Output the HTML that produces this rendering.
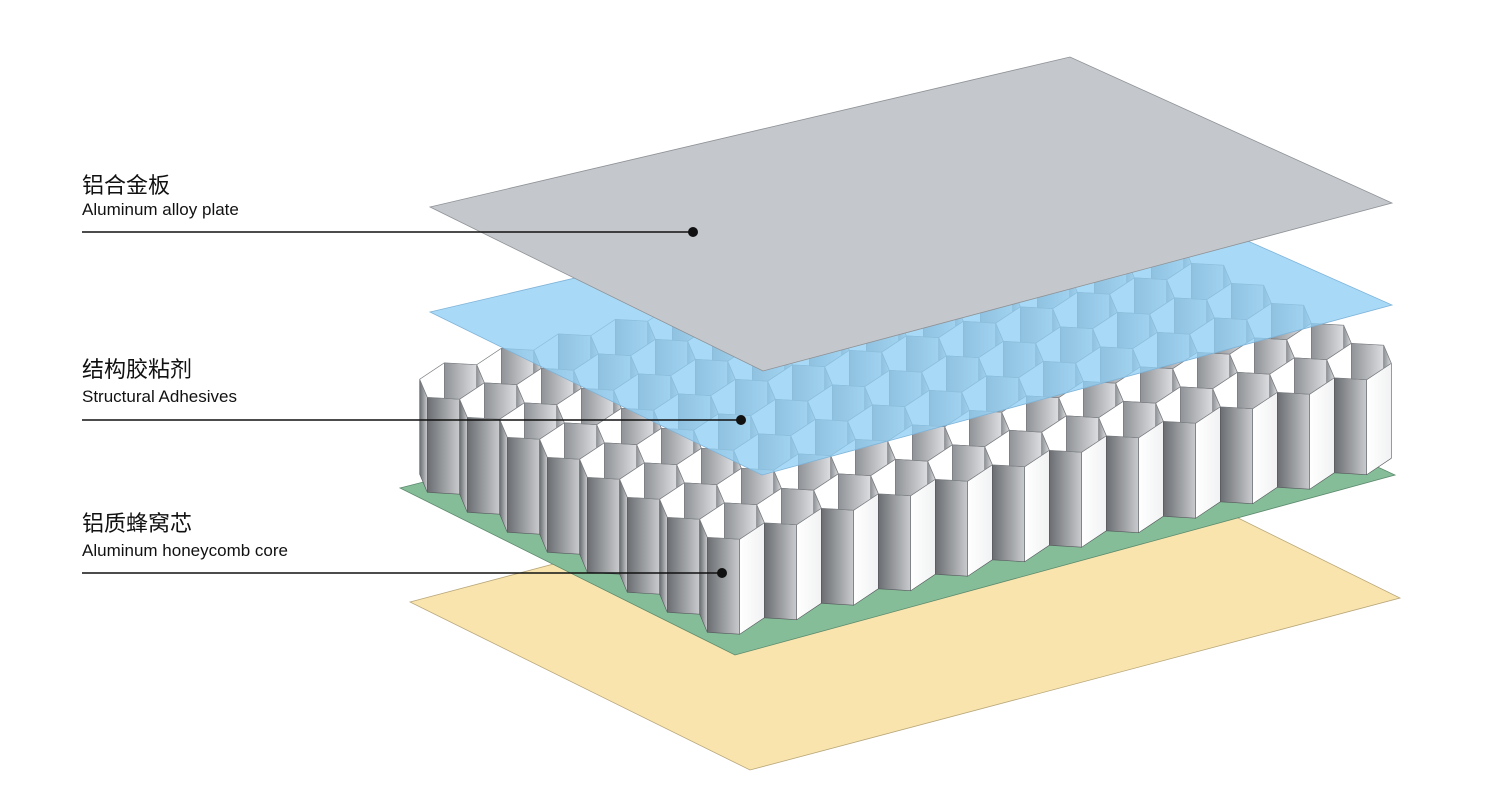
<!DOCTYPE html>
<html><head><meta charset="utf-8">
<style>
html,body{margin:0;padding:0;background:#fff;width:1485px;height:798px;overflow:hidden}
svg{position:absolute;left:0;top:0}
.t{position:absolute;left:82px;color:#111;font-family:"Liberation Sans","Noto Sans CJK SC",sans-serif;white-space:nowrap}
.cn{font-size:22px}
.en{font-size:17px}
</style></head><body>
<svg id="s" width="1485" height="798" viewBox="0 0 1485 798">
<defs id="df">
<linearGradient id="gs" x1="0" y1="0" x2="1" y2="0">
<stop offset="0" stop-color="#6a6d71"/><stop offset="1" stop-color="#c9cbce"/>
</linearGradient>
<linearGradient id="ws" x1="0" y1="0" x2="1" y2="0">
<stop offset="0" stop-color="#ffffff"/><stop offset="1" stop-color="#f1f2f3"/>
</linearGradient>
<linearGradient id="gi" x1="0" y1="0" x2="1" y2="0">
<stop offset="0" stop-color="#8f9296"/><stop offset="1" stop-color="#dcdde0"/>
</linearGradient>
</defs>
<polygon points="410,602 1060,430 1400,598 750,770" fill="#f9e4ad" stroke="#b9a77a" stroke-width="0.8"/>
<polygon points="400,488 1060,320 1395,475 735,655" fill="#85bd99" stroke="#5c8a6c" stroke-width="0.8"/>
<g id="hc"></g>
<polygon points="430,312 1070,162 1392,305 762,475" fill="#8fcff5" fill-opacity="0.78" stroke="#7fb3d8" stroke-width="0.8"/>
<polygon points="430,207 1070,57 1392,203 763,371" fill="#c4c8cc" stroke="#8e9296" stroke-width="0.8"/>
<g stroke="#111" stroke-width="1.6">
<line x1="82" y1="232" x2="693" y2="232"/>
<line x1="82" y1="420" x2="741" y2="420"/>
<line x1="82" y1="573" x2="722" y2="573"/>
</g>
<g fill="#111">
<circle cx="693" cy="232" r="5"/>
<circle cx="741" cy="420" r="5"/>
<circle cx="722" cy="573" r="5"/>
</g>
</svg>
<div class="t cn" style="top:168px">铝合金板</div>
<div class="t en" style="top:200px">Aluminum alloy plate</div>
<div class="t cn" style="top:352px">结构胶粘剂</div>
<div class="t en" style="top:387px">Structural Adhesives</div>
<div class="t cn" style="top:506px">铝质蜂窝芯</div>
<div class="t en" style="top:541px">Aluminum honeycomb core</div>
<script>
(function(){
var g=document.getElementById('hc'), df=document.getElementById('df');
var u=[57,-14.5], v=[-40,-20];
var w=[(v[0]+0.5*u[0])/0.866,(v[1]+0.5*u[1])/0.866];
var O=[732,521], h=95, R=0.577;
function P(x,y){return [O[0]+x*u[0]+y*w[0], O[1]+x*u[1]+y*w[1]];}
var cells=[];
for(var j=0;j<8;j++)for(var i=0;i<12;i++){
 var cx=i-j*0.5, cy=j*0.866; var c=P(cx,cy); cells.push({cx:cx,cy:cy,sy:c[1],sx:c[0]});
}
cells.sort(function(a,b){return a.sy-b.sy||a.sx-b.sx;});
var ns='http://www.w3.org/2000/svg';
function ps(pts){return pts.map(function(q){return q[0].toFixed(1)+','+q[1].toFixed(1)}).join(' ');}
function poly(par,pts,fill,stroke,sw){var p=document.createElementNS(ns,'polygon');
 p.setAttribute('points',ps(pts));
 p.setAttribute('fill',fill); if(stroke){p.setAttribute('stroke',stroke);p.setAttribute('stroke-width',sw||'0.6');}
 par.appendChild(p);return p;}
var n=0;
cells.forEach(function(c){
 var vs=[];
 for(var k=0;k<6;k++){var a=(30+60*k)*Math.PI/180; vs.push(P(c.cx+R*Math.cos(a), c.cy+R*Math.sin(a)));}
 var cen=P(c.cx,c.cy);
 var front=[],back=[];
 for(var k=0;k<6;k++){var p1=vs[k],p2=vs[(k+1)%6];
  var mx=(p1[0]+p2[0])/2, my=(p1[1]+p2[1])/2;
  var f={q:[p1,p2,[p2[0],p2[1]+h],[p1[0],p1[1]+h]],my:my,nx:mx-cen[0]};
  // front if edge normal points down in screen
  var ex=p2[0]-p1[0], ey=p2[1]-p1[1];
  var isFront = (my-cen[1])>0.5;
  if(isFront) front.push(f); else back.push(f);
 }
 front.sort(function(a,b){return a.my-b.my;});
 front.forEach(function(f){poly(g,f.q, f.nx<0?'url(#gs)':'url(#ws)','#55585c','0.6');});
 var id='c'+(n++);
 var cp=document.createElementNS(ns,'clipPath'); cp.setAttribute('id',id);
 poly(cp,vs,'#000'); df.appendChild(cp);
 var gg=document.createElementNS(ns,'g'); gg.setAttribute('clip-path','url(#'+id+')'); g.appendChild(gg);
 poly(gg,vs,'#e9eaec');
 back.forEach(function(f){poly(gg,f.q, f.nx>0?'url(#gi)':'#ffffff','#6a6d71','0.5');});
 poly(g,vs,'none','#7d8084','0.7');
});
})();
</script>
</body></html>
